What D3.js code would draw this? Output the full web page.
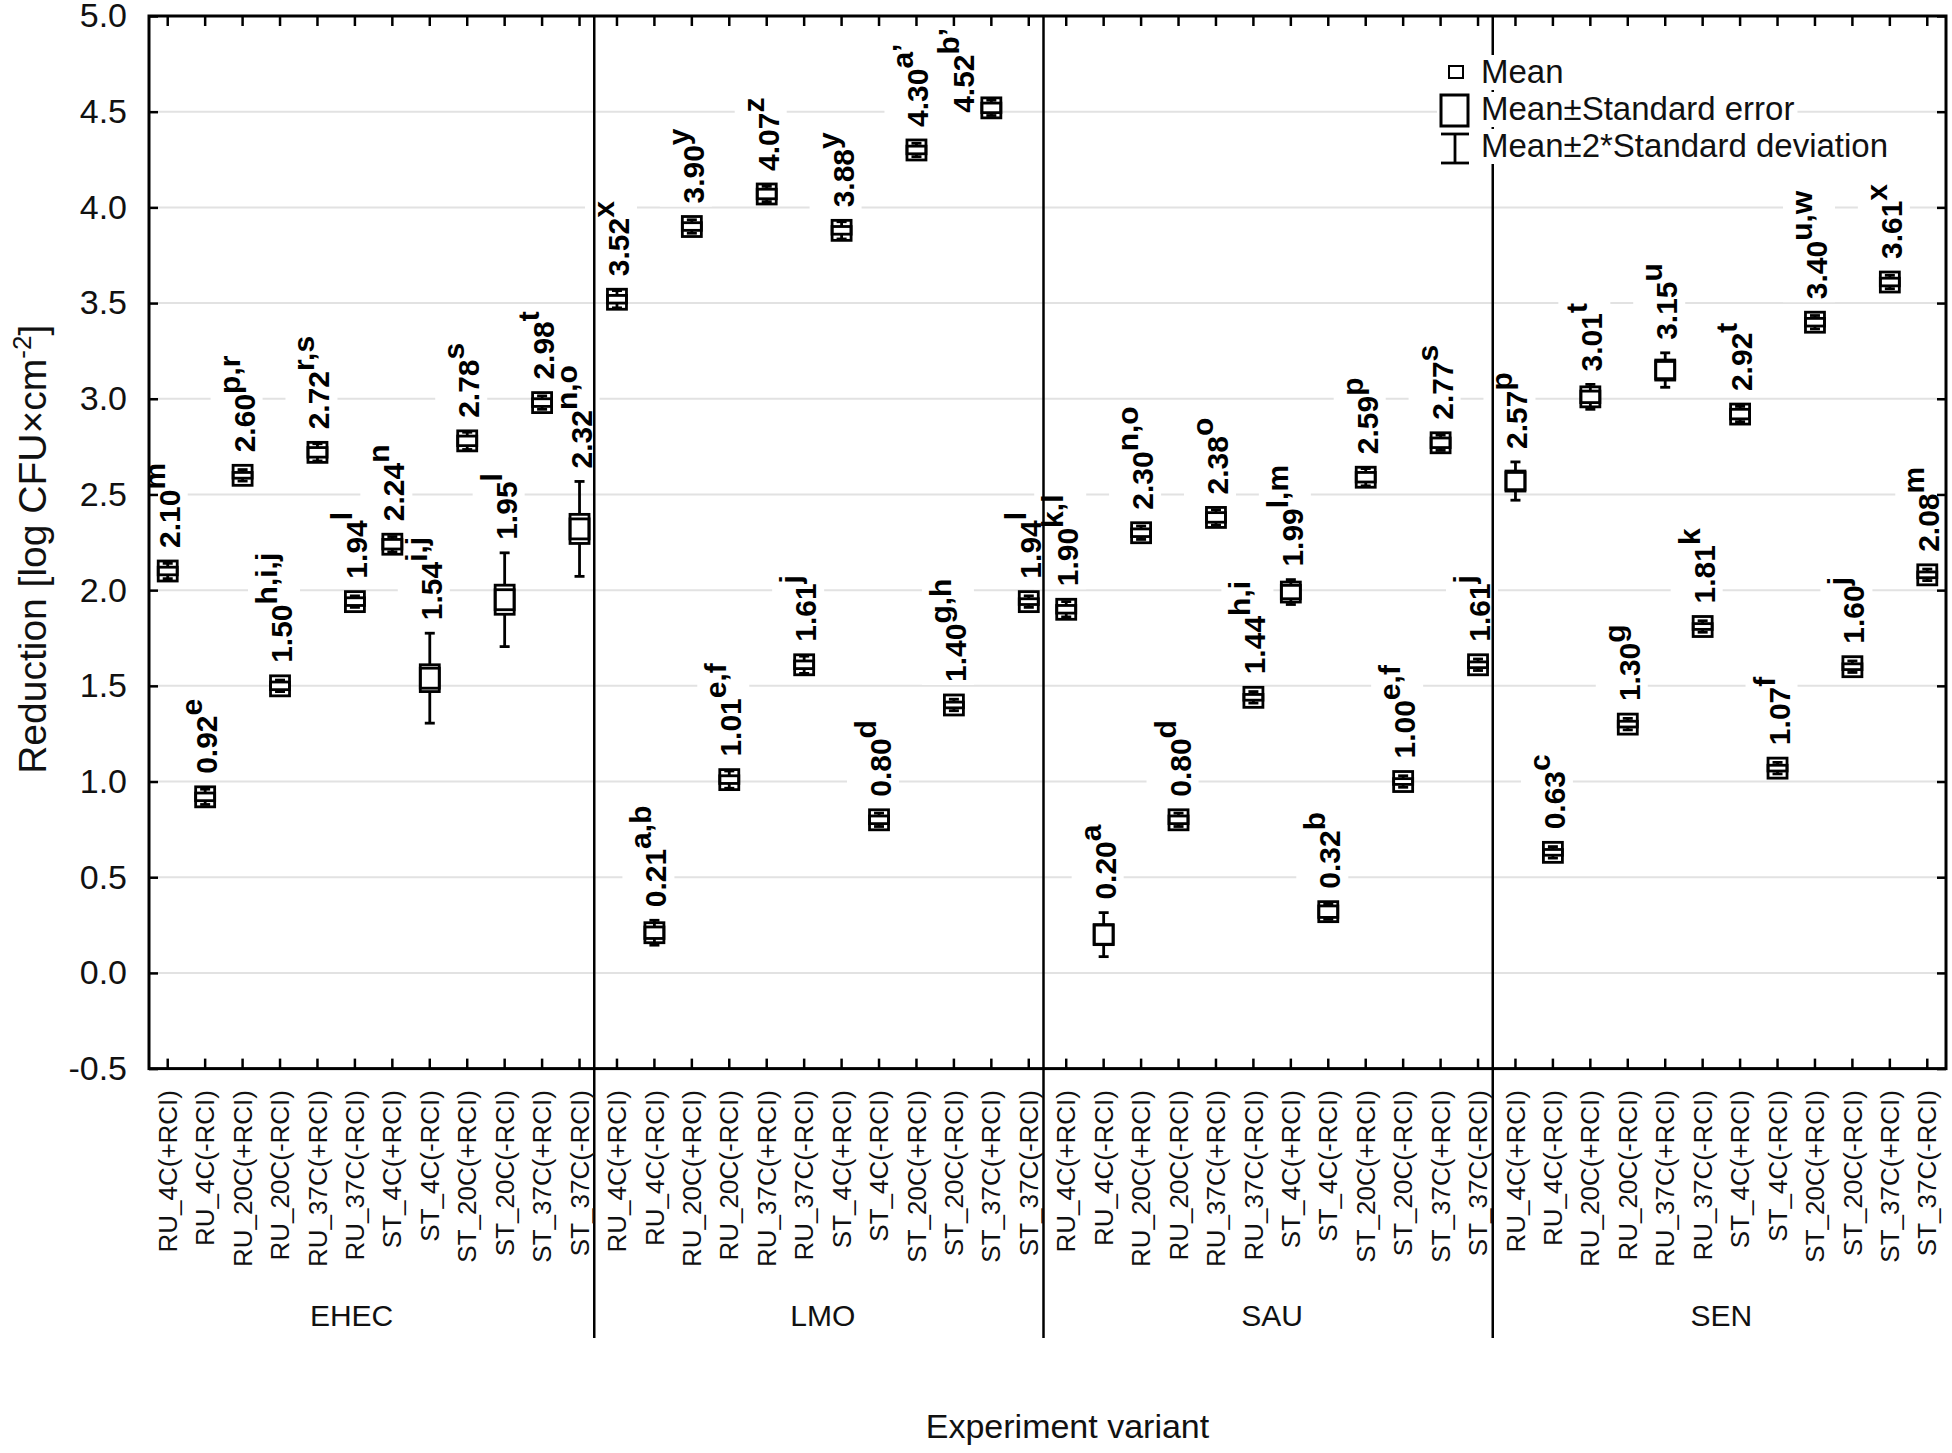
<!DOCTYPE html>
<html><head><meta charset="utf-8">
<script src="https://cdn.jsdelivr.net/npm/d3@7"></script>
<style>body{margin:0;background:#fff}</style>
</head><body><svg id="chart" width="1952" height="1453"></svg>
<script>
// ---------- data ----------
const groups = ["EHEC", "LMO", "SAU", "SEN"];
const variants = ["RU_4C(+RCI)", "RU_4C(-RCI)", "RU_20C(+RCI)", "RU_20C(-RCI)", "RU_37C(+RCI)", "RU_37C(-RCI)",
  "ST_4C(+RCI)", "ST_4C(-RCI)", "ST_20C(+RCI)", "ST_20C(-RCI)", "ST_37C(+RCI)", "ST_37C(-RCI)"];

const meanEHEC = [2.10, 0.92, 2.60, 1.50, 2.72, 1.94, 2.24, 1.54, 2.78, 1.95, 2.98, 2.32];
const meanLMO  = [3.52, 0.21, 3.90, 1.01, 4.07, 1.61, 3.88, 0.80, 4.30, 1.40, 4.52, 1.94];
const meanSAU  = [1.90, 0.20, 2.30, 0.80, 2.38, 1.44, 1.99, 0.32, 2.59, 1.00, 2.77, 1.61];
const meanSEN  = [2.57, 0.63, 3.01, 1.30, 3.15, 1.81, 2.92, 1.07, 3.40, 1.60, 3.61, 2.08];

const lettersEHEC = ["m", "e", "p,r", "h,i,j", "r,s", "l", "n", "i,j", "s", "l", "t", "n,o"];
const lettersLMO  = ["x", "a,b", "y", "e,f", "z", "j", "y", "d", "a’", "g,h", "b’", "l"];
const lettersSAU  = ["k,l", "a", "n,o", "d", "o", "h,i", "l,m", "b", "p", "e,f", "s", "j"];
const lettersSEN  = ["p", "c", "t", "g", "u", "k", "t", "f", "u,w", "j", "x", "m"];

// standard error (estimated)
const seEHEC = [0.020, 0.020, 0.015, 0.020, 0.025, 0.020, 0.025, 0.070, 0.025, 0.076, 0.020, 0.076];
const seLMO  = [0.020, 0.030, 0.020, 0.020, 0.025, 0.020, 0.020, 0.020, 0.020, 0.015, 0.025, 0.015];
const seSAU  = [0.020, 0.050, 0.020, 0.020, 0.025, 0.015, 0.035, 0.030, 0.025, 0.015, 0.025, 0.015];
const seSEN  = [0.045, 0.015, 0.030, 0.015, 0.045, 0.015, 0.025, 0.015, 0.020, 0.015, 0.020, 0.015];

// 2 * standard deviation (estimated)
const sd2EHEC = [0.040, 0.040, 0.030, 0.030, 0.045, 0.030, 0.040, 0.235, 0.045, 0.245, 0.035, 0.248];
const sd2LMO  = [0.045, 0.065, 0.035, 0.045, 0.040, 0.045, 0.045, 0.035, 0.035, 0.030, 0.040, 0.030];
const sd2SAU  = [0.040, 0.115, 0.035, 0.035, 0.040, 0.030, 0.065, 0.040, 0.045, 0.030, 0.040, 0.030];
const sd2SEN  = [0.100, 0.030, 0.065, 0.030, 0.090, 0.030, 0.040, 0.030, 0.035, 0.030, 0.035, 0.030];

const yTickValues = [-0.5, 0.0, 0.5, 1.0, 1.5, 2.0, 2.5, 3.0, 3.5, 4.0, 4.5, 5.0];
const legendLabels = ["Mean", "Mean±Standard error", "Mean±2*Standard deviation"];

// ---------- build rows ----------
const groupData = {
  EHEC: {mean: meanEHEC, letters: lettersEHEC, se: seEHEC, sd2: sd2EHEC},
  LMO:  {mean: meanLMO,  letters: lettersLMO,  se: seLMO,  sd2: sd2LMO},
  SAU:  {mean: meanSAU,  letters: lettersSAU,  se: seSAU,  sd2: sd2SAU},
  SEN:  {mean: meanSEN,  letters: lettersSEN,  se: seSEN,  sd2: sd2SEN}
};
const rows = [];
groups.forEach(g => variants.forEach((v, i) => rows.push({
  id: g + "|" + v, group: g, variant: v,
  mean: groupData[g].mean[i], letters: groupData[g].letters[i],
  se: groupData[g].se[i], sd2: groupData[g].sd2[i]
})));

// ---------- layout ----------
const W = 1952, H = 1453;
const L = 149, R = 1946, T = 16, B = 1068.6;
const svg = d3.select("#chart");
svg.append("rect").attr("width", W).attr("height", H).attr("fill", "#fff");

const x = d3.scaleBand().domain(rows.map(d => d.id)).range([L, R]).padding(0);
const bw = x.bandwidth();
const cx = d => x(d.id) + bw / 2;
const y = d3.scaleLinear().domain([-0.5, 5.0]).range([B, T]);

const AX_FONT = "'Liberation Sans', Arial, sans-serif";

// gridlines
const gridG = svg.append("g");
gridG.selectAll("line").data(yTickValues.filter(v => v > -0.5 && v < 5.0)).join("line")
  .attr("x1", L).attr("x2", R).attr("y1", d => y(d)).attr("y2", d => y(d))
  .attr("stroke", "#e2e2e2").attr("stroke-width", 2);

// label background group (drawn under dividers)
const labelBgG = svg.append("g");

// group dividers
const firstOfGroup = groups.slice(1).map(g => rows.find(r => r.group === g));
svg.append("g").selectAll("line").data(firstOfGroup).join("line")
  .attr("x1", d => x(d.id) - 4).attr("x2", d => x(d.id) - 4)
  .attr("y1", T).attr("y2", 1338)
  .attr("stroke", "#000").attr("stroke-width", 2.5);

// y-axis (left) with inward ticks
const fmtY = v => d3.format(".1f")(v).replace("−", "-");
const yAxisL = d3.axisLeft(y).tickValues(yTickValues).tickFormat(fmtY).tickSizeInner(-9).tickSizeOuter(0).tickPadding(22);
const gyl = svg.append("g").attr("transform", `translate(${L},0)`).call(yAxisL);
gyl.select(".domain").remove();
gyl.selectAll(".tick line").attr("stroke", "#000").attr("stroke-width", 2.5);
gyl.selectAll(".tick text").attr("font-family", AX_FONT).attr("font-size", 34).attr("fill", "#111");

// y-axis (right) inward ticks
const yAxisR = d3.axisRight(y).tickValues(yTickValues).tickFormat("").tickSizeInner(-9).tickSizeOuter(0);
const gyr = svg.append("g").attr("transform", `translate(${R},0)`).call(yAxisR);
gyr.select(".domain").remove();
gyr.selectAll(".tick line").attr("stroke", "#000").attr("stroke-width", 2.5);

// x-axis bottom with inward ticks and rotated labels
const xAxisB = d3.axisBottom(x).tickFormat(id => id.split("|")[1]).tickSizeInner(-10).tickSizeOuter(0);
const gxb = svg.append("g").attr("transform", `translate(0,${B})`).call(xAxisB);
gxb.select(".domain").remove();
gxb.selectAll(".tick line").attr("stroke", "#000").attr("stroke-width", 2.5);
gxb.selectAll(".tick text")
  .attr("font-family", AX_FONT).attr("font-size", 26).attr("fill", "#111")
  .attr("text-anchor", "end").attr("transform", "translate(0,21.4) rotate(-90)")
  .attr("x", 0).attr("y", 0).attr("dy", "0.35em");

// x-axis top inward ticks
const xAxisT = d3.axisTop(x).tickFormat("").tickSizeInner(-10).tickSizeOuter(0);
const gxt = svg.append("g").attr("transform", `translate(0,${T})`).call(xAxisT);
gxt.select(".domain").remove();
gxt.selectAll(".tick line").attr("stroke", "#000").attr("stroke-width", 2.5);

// frame
svg.append("rect").attr("x", L).attr("y", T).attr("width", R - L).attr("height", B - T)
  .attr("fill", "none").attr("stroke", "#000").attr("stroke-width", 3);

// group labels
svg.append("g").selectAll("text").data(groups).join("text")
  .attr("x", (g, i) => {
    const rs = rows.filter(r => r.group === g);
    const mid = (x(rs[0].id) + x(rs[rs.length - 1].id) + bw) / 2;
    return i === 0 ? mid - 22 : mid;
  })
  .attr("y", 1326).attr("text-anchor", "middle")
  .attr("font-family", AX_FONT).attr("font-size", 30).attr("fill", "#111")
  .text(g => g);

// axis titles
svg.append("text").attr("x", (L + R) / 2 + 20).attr("y", 1438).attr("text-anchor", "middle")
  .attr("font-family", AX_FONT).attr("font-size", 34).attr("fill", "#111")
  .text("Experiment variant");

const yt = svg.append("text").attr("transform", `translate(46,${(T + B) / 2 + 7}) rotate(-90)`)
  .attr("text-anchor", "middle").attr("font-family", AX_FONT).attr("font-size", 39).attr("fill", "#111");
yt.append("tspan").text("Reduction [log CFU×cm");
yt.append("tspan").attr("dy", -15).attr("font-size", 26).text("-2");
yt.append("tspan").attr("dy", 15).text("]");

// ---------- markers ----------
const MS = 19;      // marker width
const MH = 20;      // mean-square height
const mk = svg.append("g").attr("stroke", "#000").attr("stroke-width", 2.8);
const pts = mk.selectAll("g").data(rows).join("g");
// whiskers
pts.append("line").attr("x1", cx).attr("x2", cx)
  .attr("y1", d => y(d.mean + d.sd2)).attr("y2", d => y(d.mean - d.sd2));
pts.append("line").attr("x1", d => cx(d) - 5).attr("x2", d => cx(d) + 5)
  .attr("y1", d => y(d.mean + d.sd2)).attr("y2", d => y(d.mean + d.sd2));
pts.append("line").attr("x1", d => cx(d) - 5).attr("x2", d => cx(d) + 5)
  .attr("y1", d => y(d.mean - d.sd2)).attr("y2", d => y(d.mean - d.sd2));
// SE box
pts.append("rect").attr("x", d => cx(d) - MS / 2).attr("width", MS)
  .attr("y", d => y(d.mean + d.se)).attr("height", d => y(d.mean - d.se) - y(d.mean + d.se))
  .attr("fill", "#fff");
// mean square
pts.append("rect").attr("x", d => cx(d) - MS / 2).attr("width", MS)
  .attr("y", d => y(d.mean) - MH / 2).attr("height", MH).attr("fill", "none");

// ---------- value labels ----------
const LBL_FONT = "'Liberation Sans', Arial, sans-serif";
const fmt = d3.format(".2f");
const lblG = svg.append("g");
rows.forEach(d => {
  const t = lblG.append("text")
    .attr("font-family", LBL_FONT).attr("font-weight", "bold").attr("font-size", 30).attr("fill", "#000");
  t.append("tspan").text(fmt(d.mean));
  t.append("tspan").attr("dy", -15).text(d.letters);
  const bb = t.node().getBBox();
  const top = Math.min(y(d.mean) - MH / 2, y(d.mean + d.sd2));
  let lx = cx(d) + 12, ly = top - 13;
  if (ly - bb.width < T + 4) {      // no room above: put label beside the marker
    lx = cx(d) - 17; ly = y(d.mean) + 5;
  }
  const tr = `translate(${lx},${ly}) rotate(-90)`;
  t.attr("transform", tr);
  labelBgG.append("rect").attr("transform", tr)
    .attr("x", bb.x - 3).attr("y", bb.y - 2).attr("width", bb.width + 6).attr("height", bb.height + 4)
    .attr("fill", "#fff");
});

// ---------- legend ----------
const LEG_FONT = "'Liberation Sans', Arial, sans-serif";
const lg = svg.append("g");
const legY = [83, 120, 157];
const legBg = lg.append("g");
const legTx = lg.append("g");
legendLabels.forEach((s, i) => {
  const t = legTx.append("text").attr("x", 1481).attr("y", legY[i])
    .attr("font-family", LEG_FONT).attr("font-size", 33).attr("fill", "#111").text(s);
  const bb = t.node().getBBox();
  legBg.append("rect").attr("x", 1437).attr("y", bb.y + 2).attr("width", bb.x + bb.width + 3 - 1437)
    .attr("height", bb.height - 2).attr("fill", "#fff");
});
const ls = lg.append("g").attr("stroke", "#000").attr("fill", "none");
ls.append("rect").attr("x", 1449).attr("y", 66).attr("width", 14).attr("height", 12).attr("stroke-width", 2);
ls.append("rect").attr("x", 1441).attr("y", 95).attr("width", 27).attr("height", 31).attr("stroke-width", 3);
ls.append("line").attr("x1", 1455).attr("x2", 1455).attr("y1", 134).attr("y2", 163).attr("stroke-width", 2.8);
ls.append("line").attr("x1", 1441).attr("x2", 1469).attr("y1", 134).attr("y2", 134).attr("stroke-width", 2.8);
ls.append("line").attr("x1", 1441).attr("x2", 1469).attr("y1", 163).attr("y2", 163).attr("stroke-width", 2.8);
</script>
</body></html>
